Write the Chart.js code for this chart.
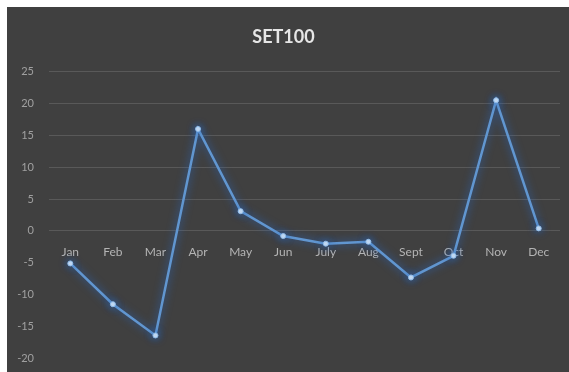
<!doctype html>
<html>
<head>
    <title>SET100</title>
    <script src="https://cdn.jsdelivr.net/npm/chart.js@4.4.0/dist/chart.umd.min.js"></script>
    <style>
        html, body{
            margin: 0px;
            background: #fff;
            width: 569px;
            height: 372px;
            overflow: hidden;
        }
        #box{
            position: absolute;
            left: 7px;
            top: 7px;
            width: 562px;
            height: 365px;
            background: #404040;
            overflow: hidden;
        }
        #inner{
            position: relative;
            width: 562px;
            height: 373px;
        }
    </style>
</head>
<body>
    <div id="box"><div id="inner"><canvas id="canvas"></canvas></div></div>
    <script>
        var months = ['Jan', 'Feb', 'Mar', 'Apr', 'May', 'Jun', 'July', 'Aug', 'Sept', 'Oct', 'Nov', 'Dec'];
        var set100 = [-5.1, -11.5, -16.4, 16.0, 3.1, -0.8, -2.0, -1.7, -7.3, -3.9, 20.5, 0.4];
        var yMin = -20;
        var yMax = 25;
        var yStep = 5;

        // soft blue glow around the line, like the Excel effect
        var glow = {
            id: 'glow',
            beforeDatasetDraw: function(chart){
                var ctx = chart.ctx;
                ctx.save();
                ctx.shadowColor = 'rgba(40,105,200,0.95)';
                ctx.shadowBlur = 9;
            },
            afterDatasetDraw: function(chart){
                chart.ctx.restore();
            }
        };

        var ctx = document.getElementById('canvas').getContext('2d');
        window.myLine = new Chart(ctx, {
            type: 'line',
            data: {
                labels: months,
                datasets: [{
                    label: 'SET100',
                    data: set100,
                    borderColor: '#6196d0',
                    borderWidth: 2.5,
                    pointRadius: 2.5,
                    pointBackgroundColor: '#cfe3f7',
                    pointBorderColor: '#8fbbe8',
                    pointBorderWidth: 1,
                    tension: 0
                }]
            },
            options: {
                responsive: true,
                maintainAspectRatio: false,
                animation: false,
                layout: {
                    padding: { left: 0, right: 9, top: 0, bottom: 14 }
                },
                plugins: {
                    legend: { display: false },
                    tooltip: { enabled: false },
                    title: {
                        display: true,
                        text: 'SET100',
                        color: '#e6e6e6',
                        font: { family: 'Lato', size: 18, weight: 'bold' },
                        padding: { top: 19, bottom: 24 }
                    }
                },
                scales: {
                    x: {
                        position: { y: 0 },
                        offset: true,
                        afterFit: function(scale){ scale.height = 0; },
                        grid: { display: false, drawTicks: false },
                        border: { display: false },
                        ticks: {
                            color: '#b4b4b4',
                            font: { family: 'Lato', size: 12 },
                            padding: 14,
                            maxRotation: 0,
                            autoSkip: false
                        }
                    },
                    y: {
                        min: yMin,
                        max: yMax,
                        afterFit: function(scale){ scale.width = 42; },
                        grid: {
                            drawTicks: false,
                            lineWidth: 1,
                            color: function(c){
                                return c.tick && c.tick.value < 0 ? 'rgba(0,0,0,0)' : '#595959';
                            }
                        },
                        border: { display: false },
                        ticks: {
                            stepSize: yStep,
                            color: '#a0a0a0',
                            font: { family: 'Lato', size: 11 },
                            padding: 15
                        }
                    }
                }
            },
            plugins: [glow]
        });
    </script>
</body>
</html>
